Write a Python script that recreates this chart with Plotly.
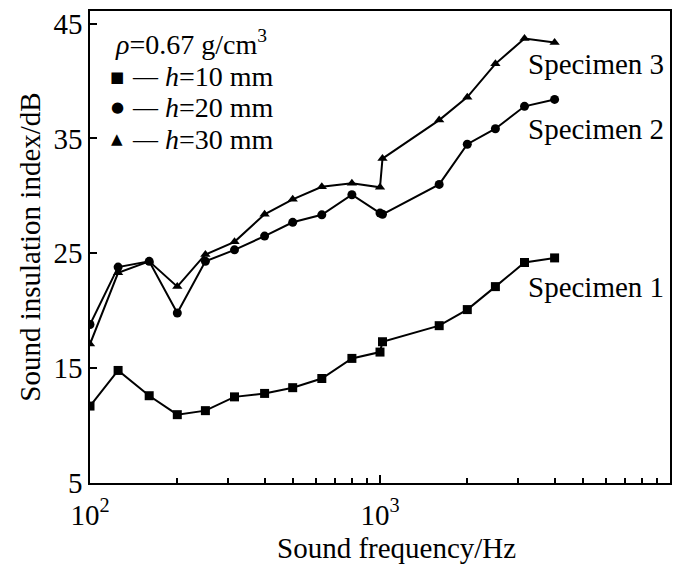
import math
import plotly.graph_objects as go

freq = [100, 125, 160, 200, 250, 315, 400, 500, 630, 800, 1000, 1020, 1600, 2000, 2500, 3150, 4000]
spec1 = [11.7, 14.8, 12.6, 10.95, 11.3, 12.5, 12.8, 13.3, 14.1, 15.85, 16.4, 17.3, 18.7, 20.1, 22.1, 24.2, 24.6]
spec2 = [18.8, 23.8, 24.3, 19.8, 24.3, 25.3, 26.5, 27.7, 28.35, 30.1, 28.5, 28.4, 31.0, 34.5, 35.85, 37.8, 38.4]
spec3 = [17.1, 23.3, 24.3, 22.1, 24.9, 26.0, 28.4, 29.7, 30.8, 31.1, 30.75, 33.25, 36.6, 38.6, 41.5, 43.7, 43.35]

series_names = ["<i>h</i>=10 mm", "<i>h</i>=20 mm", "<i>h</i>=30 mm"]
series_values = [spec1, spec2, spec3]
series_symbols = ["square", "circle", "triangle-up"]
legend_glyphs = ["■", "●", "▲"]
legend_title = "<i>ρ</i>=0.67 g/cm<sup>3</sup>"

labels = [("Specimen 3", 3200, 41.45), ("Specimen 2", 3200, 35.8), ("Specimen 1", 3200, 22.1)]

xtickvals = [100, 1000, 10000]
xticktext = ["10<sup>2</sup>", "10<sup>3</sup>", "10<sup>4</sup>"]
minor_vals = [200, 300, 400, 500, 600, 700, 800, 900, 2000, 3000, 4000, 5000, 6000, 7000, 8000, 9000]
ytickvals = [5, 15, 25, 35, 45]

FONT = "Liberation Serif"
FS = 29
LFS = 28

fig = go.Figure()
for name, ys, sym in zip(series_names, series_values, series_symbols):
    fig.add_trace(go.Scatter(
        x=freq, y=ys, mode="lines+markers", name=name.replace("<i>", "").replace("</i>", ""),
        line=dict(color="black", width=2),
        marker=dict(symbol=sym, size=9, color="black"),
        showlegend=False,
    ))

for text, x, y in labels:
    fig.add_annotation(x=math.log10(x), y=y, xref="x", yref="y", text=text, showarrow=False,
                       xanchor="left", yanchor="middle",
                       font=dict(family=FONT, size=FS, color="black"))

# legend block (text)
fig.add_annotation(x=0.039, y=0.933, xref="paper", yref="paper", text=legend_title,
                   showarrow=False, xanchor="left", yanchor="middle",
                   font=dict(family=FONT, size=LFS, color="black"))
leg_y = [0.861, 0.796, 0.728]
for name, glyph, yy in zip(series_names, legend_glyphs, leg_y):
    fig.add_annotation(x=0.0466, y=yy, xref="paper", yref="paper", text=glyph,
                       showarrow=False, xanchor="center", yanchor="middle",
                       font=dict(family="DejaVu Sans", size=15, color="black"))
    fig.add_annotation(x=0.095, y=yy, xref="paper", yref="paper", text="—",
                       showarrow=False, xanchor="center", yanchor="middle",
                       font=dict(family=FONT, size=25, color="black"))
    fig.add_annotation(x=0.126, y=yy, xref="paper", yref="paper", text=name,
                       showarrow=False, xanchor="left", yanchor="middle",
                       font=dict(family=FONT, size=LFS, color="black"))

# x axis title
fig.add_annotation(x=0.529, y=-0.137, xref="paper", yref="paper", text="Sound frequency/Hz",
                   showarrow=False, xanchor="center", yanchor="middle",
                   font=dict(family=FONT, size=FS, color="black"))

fig.update_layout(
    width=683, height=570,
    margin=dict(l=90, r=13, t=8, b=87),
    paper_bgcolor="white", plot_bgcolor="white",
    font=dict(family=FONT, size=FS, color="black"),
    showlegend=False,
    xaxis=dict(
        type="log", range=[2, 4],
        tickvals=xtickvals, ticktext=xticktext,
        ticks="inside", ticklen=8, tickwidth=1.5, tickcolor="black",
        showline=True, linecolor="black", linewidth=1.5, mirror=True,
        showgrid=False, zeroline=False,
        minor=dict(tickvals=minor_vals, ticks="inside", ticklen=5, tickcolor="black", showgrid=False),
        tickfont=dict(family=FONT, size=FS),
        ticklabelstandoff=5,
    ),
    yaxis=dict(
        range=[5, 46.1],
        tickvals=ytickvals,
        ticks="inside", ticklen=7, tickwidth=1.5, tickcolor="black",
        showline=True, linecolor="black", linewidth=1.5, mirror=True,
        showgrid=False, zeroline=False,
        title=dict(text="Sound insulation index/dB", font=dict(family=FONT, size=FS), standoff=4),
        tickfont=dict(family=FONT, size=FS),
    ),
)

fig.write_html("out.html")
